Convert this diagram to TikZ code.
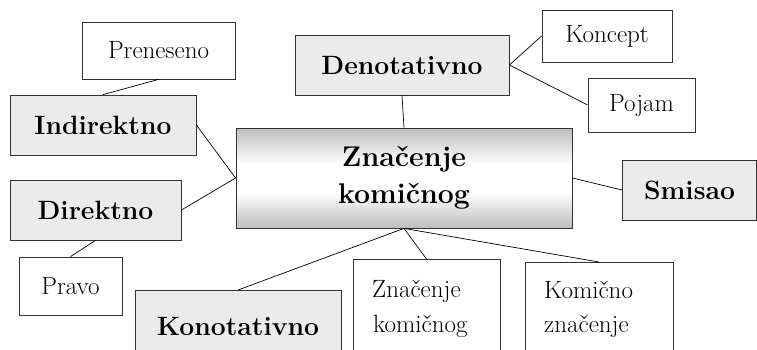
\documentclass[tikz,border=0pt]{standalone}
\usepackage{fontspec}
\definecolor{boxgray}{HTML}{EBEBEB}
\definecolor{edgecol}{HTML}{333333}
\definecolor{shadegray}{HTML}{BDBDBD}
\pgfdeclareverticalshading{mainshade}{100bp}{color(0bp)=(shadegray); color(25bp)=(shadegray); color(43bp)=(white); color(57bp)=(white); color(75bp)=(shadegray); color(100bp)=(shadegray)}
\begin{document}
\begin{tikzpicture}[x=1pt,y=-1pt,
  plainbox/.style={draw=edgecol,line width=0.8pt,fill=white,inner sep=0pt,align=center,
    font=\fontsize{25}{35}\selectfont},
  graybox/.style={draw=edgecol,line width=0.8pt,fill=boxgray,inner sep=0pt,align=center,
    font=\fontsize{26.5}{35}\selectfont\bfseries},
  mainbox/.style={draw=edgecol,line width=0.8pt,inner sep=0pt,align=center,
    shading=mainshade,
    font=\fontsize{28.5}{37}\selectfont\bfseries},
  lbl/.style={inner sep=0pt,font=\fontsize{25}{35}\selectfont},
  blbl/.style={inner sep=0pt,font=\fontsize{26.5}{35}\selectfont\bfseries},
  conn/.style={draw=black,line width=0.7pt}]
\clip (0,0) rectangle (757,349);
\useasboundingbox (0,0) rectangle (757,349);
\fill[white] (0,0) rectangle (757,349);

% boxes
\node[plainbox,minimum width=153,minimum height=57] (pren) at (158.5,50.5) {Preneseno};
\node[graybox,minimum width=214,minimum height=60] (den) at (402,65) {Denotativno};
\node[plainbox,minimum width=130,minimum height=52] (konc) at (607,36) {Koncept};
\node[plainbox,minimum width=107,minimum height=54] (poj) at (641.5,105) {Pojam};
\node[graybox,minimum width=186,minimum height=60] (ind) at (103,125) {Indirektno};
\node[mainbox,minimum width=336,minimum height=100] (main) at (404,178) {Značenje\\komičnog};
\node[graybox,minimum width=134,minimum height=60] (smi) at (689.5,190) {Smisao};
\node[graybox,minimum width=171,minimum height=60] (dir) at (95.5,210) {Direktno};
\node[plainbox,minimum width=103,minimum height=58] (prav) at (70.5,286) {Pravo};
\node[graybox,minimum width=206,minimum height=90,anchor=north] (kon) at (238,290) {};
\node[plainbox,minimum width=147,minimum height=100,anchor=north] (zk) at (426.5,259) {};
\node[plainbox,minimum width=148,minimum height=100,anchor=north] (kz) at (599,262) {};

% labels of the cut-off boxes
\node[blbl,anchor=base] (konlbl) at (238,335) {Konotativno};
\node[lbl,anchor=base west] (zk1) at (372,297) {Značenje};
\node[lbl,anchor=base west] (zk2) at (373,332) {komičnog};
\node[lbl,anchor=base west] (kz1) at (544,298) {Komično};
\node[lbl,anchor=base west] (kz2) at (544,332) {značenje};

% connectors
\draw[conn] (pren.south) -- (ind.north);
\draw[conn] (ind.east) -- (main.west);
\draw[conn] (dir.east) -- (main.west);
\draw[conn] (dir.south) -- (prav.north);
\draw[conn] (den.south) -- (main.north);
\draw[conn] (den.east) -- (konc.west);
\draw[conn] (den.east) -- (poj.west);
\draw[conn] (main.east) -- (smi.west);
\draw[conn] (main.south) -- (kon.north);
\draw[conn] (main.south) -- (zk.north);
\draw[conn] (main.south) -- (kz.north);
\end{tikzpicture}
\end{document}
